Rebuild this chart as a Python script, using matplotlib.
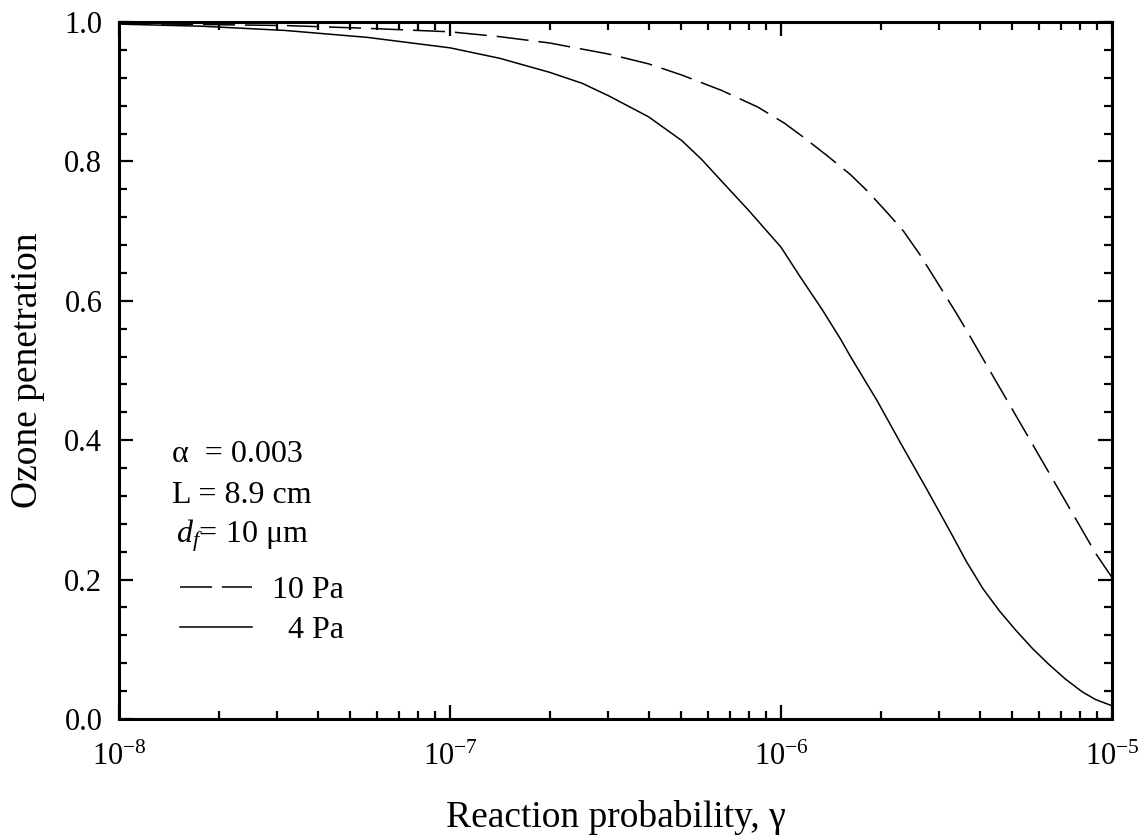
import matplotlib
matplotlib.use("Agg")
import matplotlib.pyplot as plt
import numpy as np
from matplotlib.ticker import FixedLocator, FuncFormatter

plt.rcParams["font.family"] = ["Liberation Serif", "DejaVu Serif"]
plt.rcParams["mathtext.fontset"] = "custom"
plt.rcParams["mathtext.rm"] = "Liberation Serif"
plt.rcParams["mathtext.it"] = "Liberation Serif:italic"

# log10 of reaction probability and ozone penetration
log_gamma_4pa = [-8.0, -7.75, -7.5, -7.25, -7.0, -6.85, -6.7, -6.6, -6.52,
                 -6.4, -6.3, -6.24, -6.18, -6.1, -6.0, -5.94, -5.875, -5.82,
                 -5.79, -5.71, -5.64, -5.56, -5.49, -5.44, -5.39, -5.34,
                 -5.29, -5.24, -5.19, -5.14, -5.09, -5.05, -5.0]
pen_4pa = [0.997, 0.994, 0.988, 0.978, 0.963, 0.948, 0.928, 0.912, 0.894,
           0.864, 0.830, 0.803, 0.772, 0.731, 0.677, 0.633, 0.587, 0.545,
           0.520, 0.457, 0.397, 0.330, 0.270, 0.226, 0.187, 0.155,
           0.127, 0.101, 0.078, 0.057, 0.039, 0.028, 0.019]

log_gamma_10pa = [-8.0, -7.5, -7.25, -7.0, -6.85, -6.7, -6.52, -6.4, -6.3,
                  -6.18, -6.07, -5.99, -5.93, -5.86, -5.79, -5.74, -5.68,
                  -5.63, -5.58, -5.53, -5.47, -5.43, -5.39, -5.34, -5.29,
                  -5.24, -5.19, -5.14, -5.09, -5.05, -5.0]
pen_10pa = [0.998, 0.995, 0.991, 0.986, 0.979, 0.970, 0.954, 0.940, 0.924,
            0.902, 0.878, 0.855, 0.834, 0.808, 0.781, 0.758, 0.727,
            0.700, 0.666, 0.628, 0.582, 0.550, 0.517, 0.476, 0.435,
            0.394, 0.353, 0.312, 0.271, 0.238, 0.203]

x_ticks = [1e-8, 1e-7, 1e-6, 1e-5]
y_ticks = [0.0, 0.2, 0.4, 0.6, 0.8, 1.0]

gamma_4pa = 10 ** np.array(log_gamma_4pa)
gamma_10pa = 10 ** np.array(log_gamma_10pa)

fig = plt.figure(figsize=(11.47, 8.38), dpi=100)
ax = fig.add_axes([0.1037, 0.142, 0.8658, 0.8317])

ax.plot(gamma_10pa, pen_10pa, color="black", lw=1.1, dashes=(21, 6.5),
        label="10 Pa")
ax.plot(gamma_4pa, pen_4pa, color="black", lw=1.1, label="  4 Pa")

ax.set_xscale("log")
ax.set_xlim(1e-8, 1e-5)
ax.set_ylim(0, 1.0)

ax.xaxis.set_major_locator(FixedLocator(x_ticks))
ax.xaxis.set_major_formatter(
    FuncFormatter(lambda v, p: r"$\mathregular{10^{%d}}$" % round(np.log10(v))))
ax.yaxis.set_major_locator(FixedLocator(y_ticks))
ax.yaxis.set_minor_locator(FixedLocator(np.arange(0, 1.001, 0.04)))
ax.yaxis.set_major_formatter(FuncFormatter(lambda v, p: "%.1f" % v))

for s in ax.spines.values():
    s.set_linewidth(2.2)
ax.tick_params(which="both", direction="in", top=True, right=True,
               labelsize=22, width=1.6)
ax.tick_params(which="major", length=10)
ax.tick_params(which="minor", length=6)
ax.tick_params(axis="x", pad=17)
ax.tick_params(axis="y", pad=12)

ax.set_xlabel(r"Reaction probability, γ", fontsize=27, labelpad=20)
ax.set_ylabel("Ozone penetration", fontsize=27, labelpad=14)

ax.text(0.053, 0.379, "α  = 0.003", transform=ax.transAxes, fontsize=23,
        va="center")
ax.text(0.053, 0.321, "L = 8.9 cm", transform=ax.transAxes, fontsize=23,
        va="center")
ax.text(0.057, 0.263, r"$d_f$= 10 μm", transform=ax.transAxes, fontsize=23,
        va="center")

ax.legend(loc="upper left", bbox_to_anchor=(0.0614, 0.206), frameon=False,
          fontsize=23, handlelength=2.25, handletextpad=0.63, labelspacing=0.35,
          borderpad=0, borderaxespad=0)

fig.savefig("out.png", dpi=100, facecolor="white")
